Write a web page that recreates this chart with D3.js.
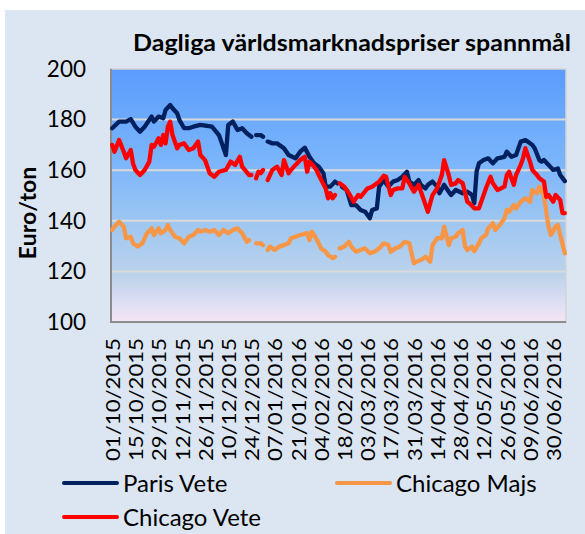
<!DOCTYPE html>
<html>
<head>
<meta charset="utf-8">
<script src="https://cdn.jsdelivr.net/npm/d3@7"></script>
<style>
  body { margin: 0; background: #ffffff; }
  svg { display: block; font-family: Lato, "Open Sans", sans-serif; }
</style>
</head>
<body>
<div id="chart"></div>
<script>
// x categories are trading days (index 0 = 01/10/2015), labels every 10th day
const xLabels = ["01/10/2015", "15/10/2015", "29/10/2015", "12/11/2015", "26/11/2015",
  "10/12/2015", "24/12/2015", "07/01/2016", "21/01/2016", "04/02/2016", "18/02/2016",
  "03/03/2016", "17/03/2016", "31/03/2016", "14/04/2016", "28/04/2016", "12/05/2016",
  "26/05/2016", "09/06/2016", "30/06/2016"];
const nDays = 196;
const yTicks = [100, 120, 140, 160, 180, 200];

const seriesNames = ["Paris Vete", "Chicago Majs", "Chicago Vete"];
const seriesColors = ["#002060", "#f79646", "#ff0000"];

// [day index, Euro/ton], null = missing day
const parisVete = [[0,176.6],[3,179.2],[6,179.2],[8,180.2],[10,177.2],[12,175.2],[14,177.2],[17,181.2],[18,179.2],[20,181.2],[22,180.5],[23,183.8],[25,185.8],[26,184.5],[28,182.5],[29,179.8],[31,176.6],[33,176.6],[35,177.2],[38,177.9],[43,177.2],[46,173.9],[47,171.3],[49,166],[50,177.9],[52,179.2],[54,175.9],[56,176.6],[58,174.6],[60,173.2],[61,null],[62,173.9],[64,173.9],[65,173.2],[66,null],[67,171.3],[69,170.6],[71,170.6],[74,168.7],[76,166],[79,164.7],[81,167.3],[83,168.9],[85,165.3],[87,162.7],[89,161.4],[91,158.8],[92,153.5],[94,153.5],[96,155.5],[97,154.8],[98,null],[99,153.5],[101,152.2],[103,146.2],[105,146.2],[107,144.3],[109,143.6],[111,141],[112,144.3],[114,144.9],[115,153.5],[117,156],[119,153.5],[121,155.5],[123,156.1],[125,157.4],[127,159.4],[128,155.5],[130,154.2],[132,156.1],[133,154.2],[135,152.8],[136,154.2],[138,155.5],[140,153.5],[141,150.9],[143,154.2],[145,151.5],[146,150.2],[148,152.2],[151,150.9],[153,151.5],[154,150.9],[155,150.2],[156,147],[157,159.5],[158,162.7],[160,164],[162,164.7],[164,162.7],[166,164.7],[169,165.3],[170,167.3],[172,165.3],[174,166],[175,168.7],[176,171.3],[178,171.9],[179,171.3],[181,170],[182,168.7],[184,164],[185,163.4],[186,164],[188,162.1],[190,160.1],[192,160.7],[193,158.1],[195,155.7]];

const chicagoMajs = [[0,136.4],[1,137.7],[3,139.6],[5,137.7],[6,133.1],[8,133.7],[9,131.1],[11,129.8],[13,131.1],[15,135.1],[17,137],[18,134.4],[20,137],[21,135.1],[23,136.4],[24,138.3],[25,136.4],[27,133.7],[29,133.1],[31,131.1],[33,133.7],[35,134.4],[37,136.4],[38,135.7],[40,136.4],[42,135.7],[44,136.4],[46,134.4],[48,136.4],[50,135.1],[52,136.4],[54,137],[56,135.1],[58,131.7],[59,132.4],[60,null],[62,131.1],[64,131.1],[65,130.4],[66,null],[67,128.5],[68,129.8],[70,128.5],[72,129.8],[74,130.4],[76,131.1],[77,133.1],[79,133.7],[81,134.4],[84,135.1],[85,132.4],[86,135.7],[87,134.4],[89,131.1],[90,129.1],[92,127.8],[93,126.5],[95,125.2],[96,125.8],[97,null],[98,129.1],[100,129.8],[102,131.7],[103,129.8],[105,127.8],[107,128.5],[109,129.1],[111,127.2],[113,127.8],[115,129.1],[117,131.1],[119,130.4],[120,127.8],[122,129.1],[124,129.8],[126,131.7],[128,131.1],[130,123.2],[131,123.8],[133,124.5],[135,125.8],[137,123.8],[138,130.4],[140,133.1],[142,133.1],[143,137.7],[145,130.4],[146,133.1],[148,133.7],[149,135.1],[151,136.4],[152,129.8],[153,128.5],[155,129.8],[156,128],[158,131.1],[159,133.1],[161,134.4],[162,137],[164,139],[165,136.4],[167,138.3],[169,141],[170,144.3],[171,143.6],[173,146.2],[174,144.9],[176,147.5],[178,148.9],[180,147.5],[181,152.2],[183,150.9],[184,153.5],[186,150.2],[187,143.6],[188,137.7],[189,134.4],[191,137.7],[192,138.3],[193,134.4],[195,127.2]];

const chicagoVete = [[0,170],[1,167.3],[3,171.9],[5,167.3],[6,164.7],[8,168],[9,162.7],[10,160.1],[12,158.1],[14,160.1],[16,163.4],[17,170],[18,169.3],[20,172.6],[21,170],[22,173.9],[23,170.6],[24,177.2],[25,179.2],[26,173.9],[28,168.7],[29,170],[31,170.6],[33,168],[35,168.7],[37,171.3],[38,166],[40,164],[42,158.8],[44,157.4],[46,159.4],[49,160.1],[51,163.4],[53,162.1],[55,165.3],[56,161.4],[59,158.1],[60,158.1],[61,null],[62,156.8],[63,159.4],[64,158.8],[65,160.1],[66,null],[67,156.1],[69,160.1],[71,161.4],[73,158.1],[74,164],[76,158.8],[77,160.1],[79,162.1],[81,164],[83,165.3],[84,159.4],[85,163.4],[87,161.4],[88,160.1],[89,158.1],[92,152.8],[93,148.9],[94,150.9],[95,148.9],[96,150.2],[97,null],[98,154.8],[100,153.5],[102,150.9],[104,147.5],[106,150.2],[107,149.5],[110,152.8],[112,153.5],[114,154.8],[115,155.5],[117,157.8],[118,157.4],[120,150.2],[121,152.2],[123,152.8],[125,152.8],[126,157.4],[128,154.8],[130,151.5],[132,154.2],[134,148.9],[136,143.6],[138,150.2],[139,151.5],[140,152.8],[142,158.1],[143,164],[145,158.1],[146,154.2],[148,154.8],[149,156.1],[151,154.8],[153,147.5],[154,146.9],[156,144.9],[158,144.9],[159,147.5],[161,152.8],[163,157.4],[164,154.8],[166,152.2],[169,153.5],[170,158.1],[171,159.4],[173,154.2],[174,158.1],[176,162.1],[177,164.7],[178,168.7],[180,163.4],[181,160.1],[183,158.1],[184,156.8],[186,155.5],[187,149.5],[188,150.2],[190,147.5],[191,150.2],[193,148.2],[194,143],[195,143]];

const W = 585, H = 534;
const margin = {top: 69, right: 19, bottom: 212, left: 111};
const width = W - margin.left - margin.right;
const height = H - margin.top - margin.bottom;

const svg = d3.select("#chart").append("svg")
    .attr("width", W)
    .attr("height", H);

// panel background
svg.append("rect")
    .attr("x", 5).attr("y", 10)
    .attr("width", W - 5).attr("height", H - 10)
    .attr("fill", "#dce6f2");

// plot gradient
const grad = svg.append("defs").append("linearGradient")
    .attr("id", "plotGrad")
    .attr("x1", 0).attr("y1", 0).attr("x2", 0).attr("y2", 1);
[["0%", "#5b9cfd"], ["35%", "#79b4fb"], ["60%", "#9cc6f2"], ["82%", "#bdd3ec"], ["100%", "#f5e6f6"]]
    .forEach(s => grad.append("stop").attr("offset", s[0]).attr("stop-color", s[1]));

const g = svg.append("g")
    .attr("transform", "translate(" + margin.left + "," + margin.top + ")");

const x = d3.scaleLinear().domain([-0.5, nDays - 0.5]).range([0, width]);
const y = d3.scaleLinear().domain([100, 200]).range([height, 0]);

g.append("rect")
    .attr("width", width).attr("height", height)
    .attr("fill", "url(#plotGrad)")
    .attr("stroke", "#d4d4d4")
    .attr("stroke-width", 1.5);

// gridlines
g.selectAll(".grid")
    .data(yTicks.filter(d => d > 100 && d < 200))
    .enter().append("line")
    .attr("class", "grid")
    .attr("x1", 0).attr("x2", width)
    .attr("y1", d => y(d)).attr("y2", d => y(d))
    .attr("stroke", "#d9d9d9")
    .attr("stroke-width", 2);

// left and bottom frame
g.append("path")
    .attr("d", "M0,0V" + height + "H" + width)
    .attr("fill", "none")
    .attr("stroke", "#8c8c8c")
    .attr("stroke-width", 2);

// y axis
const yAxis = d3.axisLeft(y).tickValues(yTicks).tickSize(0).tickPadding(25);
g.append("g").attr("class", "y-axis").call(yAxis)
    .call(a => a.select(".domain").remove())
    .selectAll("text")
    .attr("font-size", "22.5px")
    .attr("font-family", "Lato")
    .attr("fill", "#000");

// x axis
const xAxis = d3.axisBottom(x)
    .tickValues(xLabels.map((d, i) => i * 10))
    .tickFormat(i => xLabels[i / 10])
    .tickSize(0);
g.append("g").attr("class", "x-axis")
    .attr("transform", "translate(0," + height + ")")
    .call(xAxis)
    .call(a => a.select(".domain").remove())
    .selectAll("text")
    .attr("font-size", "20px")
    .attr("font-family", "Lato")
    .attr("fill", "#000")
    .attr("text-anchor", "end")
    .attr("transform", "rotate(-90)")
    .attr("x", -16)
    .attr("y", 0)
    .attr("dy", "0.36em")
    .attr("textLength", 123)
    .attr("lengthAdjust", "spacingAndGlyphs");

// lines
const line = d3.line()
    .defined(d => d[1] != null)
    .x(d => x(d[0]))
    .y(d => y(d[1]))
    .curve(d3.curveLinear);

const seriesData = [parisVete, chicagoMajs, chicagoVete];
// draw order: Paris, Majs, Chicago Vete on top
[0, 1, 2].forEach(k => {
    g.append("path")
        .datum(seriesData[k])
        .attr("d", line)
        .attr("fill", "none")
        .attr("stroke", seriesColors[k])
        .attr("stroke-width", 4.3)
        .attr("stroke-linejoin", "round")
        .attr("stroke-linecap", "round");
});

// title
svg.append("text")
    .attr("x", 352).attr("y", 51)
    .attr("text-anchor", "middle")
    .attr("font-size", "22px")
    .attr("font-weight", "bold")
    .attr("font-family", "Lato")
    .attr("textLength", 438)
    .attr("lengthAdjust", "spacingAndGlyphs")
    .text("Dagliga världsmarknadspriser spannmål");

// y label
svg.append("text")
    .attr("transform", "translate(36,213) rotate(-90)")
    .attr("text-anchor", "middle")
    .attr("font-size", "23px")
    .attr("font-weight", "bold")
    .attr("font-family", "Lato")
    .text("Euro/ton");

// legend
const legendPos = [[64, 483], [337, 483], [64, 517]];
seriesNames.forEach((name, k) => {
    const lg = svg.append("g")
        .attr("transform", "translate(" + legendPos[k][0] + "," + legendPos[k][1] + ")");
    lg.append("line")
        .attr("x1", 0).attr("x2", 53)
        .attr("stroke", seriesColors[k])
        .attr("stroke-width", 4)
        .attr("stroke-linecap", "round");
    lg.append("text")
        .attr("x", 59).attr("y", 9)
        .attr("font-size", "24px")
        .attr("font-family", "Lato")
        .text(name);
});
</script>
</body>
</html>
